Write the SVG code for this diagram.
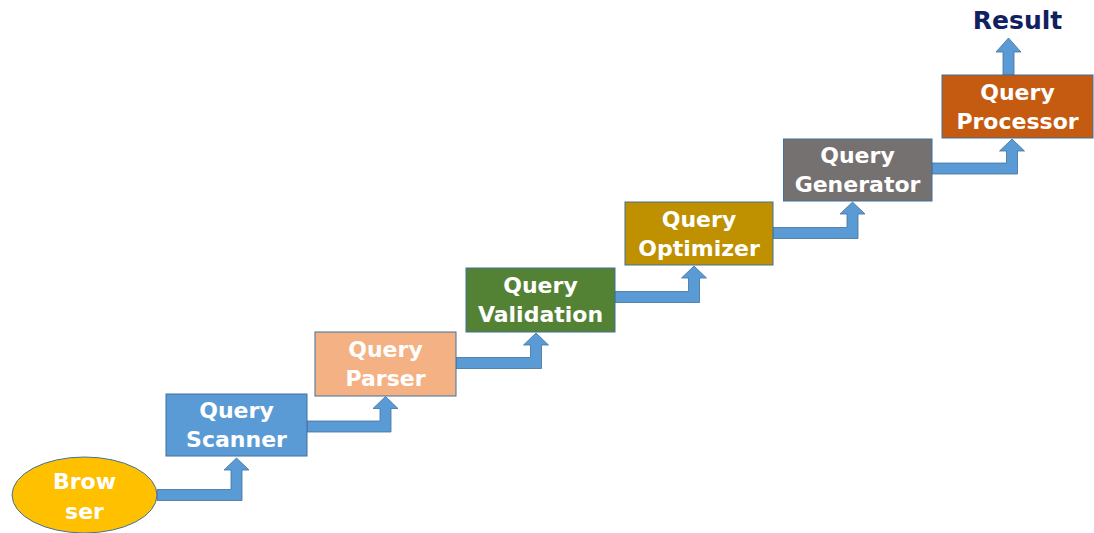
<svg xmlns="http://www.w3.org/2000/svg" width="1094" height="533" viewBox="0 0 1094 533">
<style>
.box{stroke:#41719C;stroke-width:1}
.arr{fill:#5B9BD5;stroke:#41719C;stroke-width:0.8}
.t{font-family:"DejaVu Sans","Verdana",sans-serif;font-weight:bold;font-size:22px;fill:#FFFFFF;text-anchor:middle}
.res{font-family:"DejaVu Sans","Verdana",sans-serif;font-weight:bold;font-size:25px;fill:#102060;text-anchor:middle}
</style>
<rect width="1094" height="533" fill="#FFFFFF"/>
<g id="connectors">
<path class="arr" d="M157,500.5 L242,500.5 L242,470 L249,470 L236.5,458 L224,470 L231,470 L231,489.5 L157,489.5 Z"/>
<path class="arr" d="M307,432 L391,432 L391,408.5 L398,408.5 L385.5,396.5 L373,408.5 L380,408.5 L380,421 L307,421 Z"/>
<path class="arr" d="M456,368.5 L541.5,368.5 L541.5,345 L548.5,345 L536,333 L523.5,345 L530.5,345 L530.5,357.5 L456,357.5 Z"/>
<path class="arr" d="M615,302.5 L699.5,302.5 L699.5,278 L706.5,278 L694,266 L681.5,278 L688.5,278 L688.5,291.5 L615,291.5 Z"/>
<path class="arr" d="M773,238.5 L858,238.5 L858,214 L865,214 L852.5,202 L840,214 L847,214 L847,227.5 L773,227.5 Z"/>
<path class="arr" d="M932,174 L1017.5,174 L1017.5,151 L1024.5,151 L1012,139 L999.5,151 L1006.5,151 L1006.5,163 L932,163 Z"/>
<path class="arr" d="M1003,75 L1014,75 L1014,52 L1021,52 L1008.5,38 L996,52 L1003,52 Z"/>
</g>
<g id="browser">
<ellipse class="box" cx="84.5" cy="495" rx="72.5" ry="38" fill="#FFC000"/>
<text class="t" x="84.5" y="489">Brow</text>
<text class="t" x="84.5" y="519">ser</text>
</g>
<g id="scanner">
<rect class="box" x="166" y="394" width="141" height="62" fill="#5B9BD5"/>
<text class="t" x="236.5" y="418">Query</text>
<text class="t" x="236.5" y="447">Scanner</text>
</g>
<g id="parser">
<rect class="box" x="315" y="332" width="141" height="64" fill="#F4B183"/>
<text class="t" x="385.5" y="357">Query</text>
<text class="t" x="385.5" y="386">Parser</text>
</g>
<g id="validation">
<rect class="box" x="466" y="268" width="149" height="64" fill="#548235"/>
<text class="t" x="540.5" y="293">Query</text>
<text class="t" x="540.5" y="322">Validation</text>
</g>
<g id="optimizer">
<rect class="box" x="625" y="202" width="148" height="63" fill="#BF9000"/>
<text class="t" x="699" y="226.5">Query</text>
<text class="t" x="699" y="255.5">Optimizer</text>
</g>
<g id="generator">
<rect class="box" x="783.5" y="139" width="148.5" height="62" fill="#767171"/>
<text class="t" x="857.5" y="163">Query</text>
<text class="t" x="857.5" y="192">Generator</text>
</g>
<g id="processor">
<rect class="box" x="942" y="75" width="151" height="63" fill="#C55A11"/>
<text class="t" x="1017.5" y="99.5">Query</text>
<text class="t" x="1017.5" y="128.5">Processor</text>
</g>
<g id="result">
<text class="res" x="1017.5" y="29">Result</text>
</g>
</svg>
